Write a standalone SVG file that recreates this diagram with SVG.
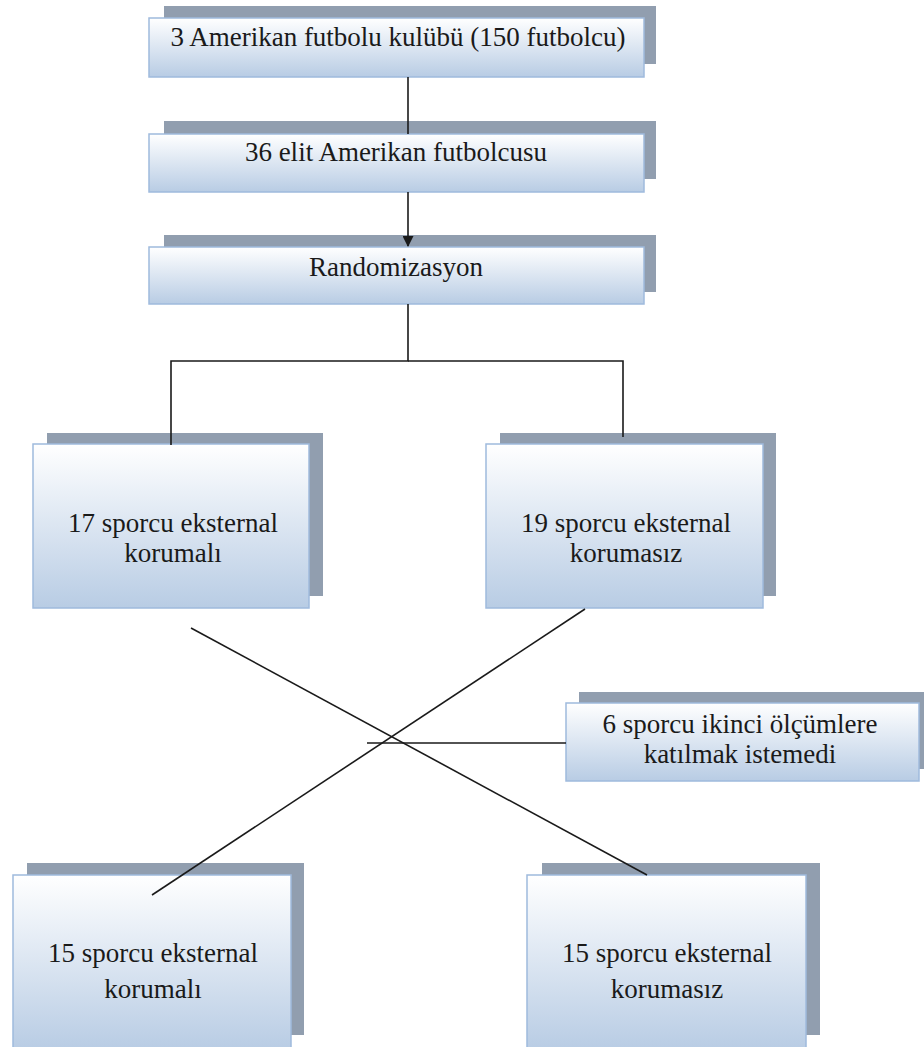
<svg xmlns="http://www.w3.org/2000/svg" width="924" height="1047" viewBox="0 0 924 1047">
<defs>
<linearGradient id="g" x1="0" y1="0" x2="0" y2="1">
<stop offset="0" stop-color="#ffffff"/>
<stop offset="1" stop-color="#b8cce4"/>
</linearGradient>
<marker id="arr" markerWidth="11" markerHeight="11" refX="10" refY="5.5" orient="auto" markerUnits="userSpaceOnUse">
<path d="M0,0 L11,5.5 L0,11 z" fill="#1a1a1a"/>
</marker>
<style>
.sh{fill:#919eaf;}
.fr{fill:url(#g);stroke:#9fbadd;stroke-width:1.5;}
.t{font-family:"Liberation Serif","Times New Roman","DejaVu Serif Condensed","DejaVu Serif",serif;font-size:27px;fill:#1a1a1a;text-anchor:middle;}
.c{stroke:#1a1a1a;stroke-width:1.6;fill:none;}
</style>
</defs>
<rect width="924" height="1047" fill="#ffffff"/>
<g id="n1">
<rect class="sh" x="164" y="6" width="492" height="58"/>
<rect class="fr" x="149" y="18" width="495" height="59"/>
<text class="t" x="398" y="46">3 Amerikan futbolu kulübü (150 futbolcu)</text>
</g>
<g id="n2">
<rect class="sh" x="164" y="121" width="492" height="58"/>
<rect class="fr" x="149" y="134" width="495" height="58"/>
<text class="t" x="396" y="161">36 elit Amerikan futbolcusu</text>
</g>
<g id="n3">
<rect class="sh" x="164" y="235" width="492" height="57"/>
<rect class="fr" x="149" y="247" width="495" height="57"/>
<text class="t" x="396" y="276">Randomizasyon</text>
</g>
<g id="n4">
<rect class="sh" x="47" y="433" width="276" height="163"/>
<rect class="fr" x="33" y="444" width="276" height="164"/>
<text class="t" x="173" y="532">17 sporcu eksternal</text>
<text class="t" x="173" y="562">korumalı</text>
</g>
<g id="n5">
<rect class="sh" x="500" y="433" width="276" height="163"/>
<rect class="fr" x="486" y="444" width="277" height="164"/>
<text class="t" x="626" y="532">19 sporcu eksternal</text>
<text class="t" x="626" y="562">korumasız</text>
</g>
<g id="n6">
<rect class="sh" x="579" y="692" width="350" height="77"/>
<rect class="fr" x="566" y="703" width="353" height="78"/>
<text class="t" x="740" y="733">6 sporcu ikinci ölçümlere</text>
<text class="t" x="740" y="763">katılmak istemedi</text>
</g>
<g id="n7">
<rect class="sh" x="27" y="863" width="277" height="172"/>
<rect class="fr" x="13" y="875" width="278" height="175"/>
<text class="t" x="153" y="962">15 sporcu eksternal</text>
<text class="t" x="153" y="998">korumalı</text>
</g>
<g id="n8">
<rect class="sh" x="542" y="863" width="278" height="172"/>
<rect class="fr" x="527" y="875" width="279" height="175"/>
<text class="t" x="667" y="962">15 sporcu eksternal</text>
<text class="t" x="667" y="998">korumasız</text>
</g>
<g id="connectors">
<line class="c" x1="408" y1="77" x2="408" y2="134"/>
<line class="c" x1="408" y1="192" x2="408" y2="246" marker-end="url(#arr)"/>
<polyline class="c" points="408,304 408,361 171,361 171,445"/>
<polyline class="c" points="408,361 623,361 623,437"/>
<line class="c" x1="191" y1="628" x2="647" y2="875"/>
<line class="c" x1="585" y1="609" x2="152" y2="895"/>
<line class="c" x1="367" y1="743" x2="566" y2="743"/>
</g>
</svg>
